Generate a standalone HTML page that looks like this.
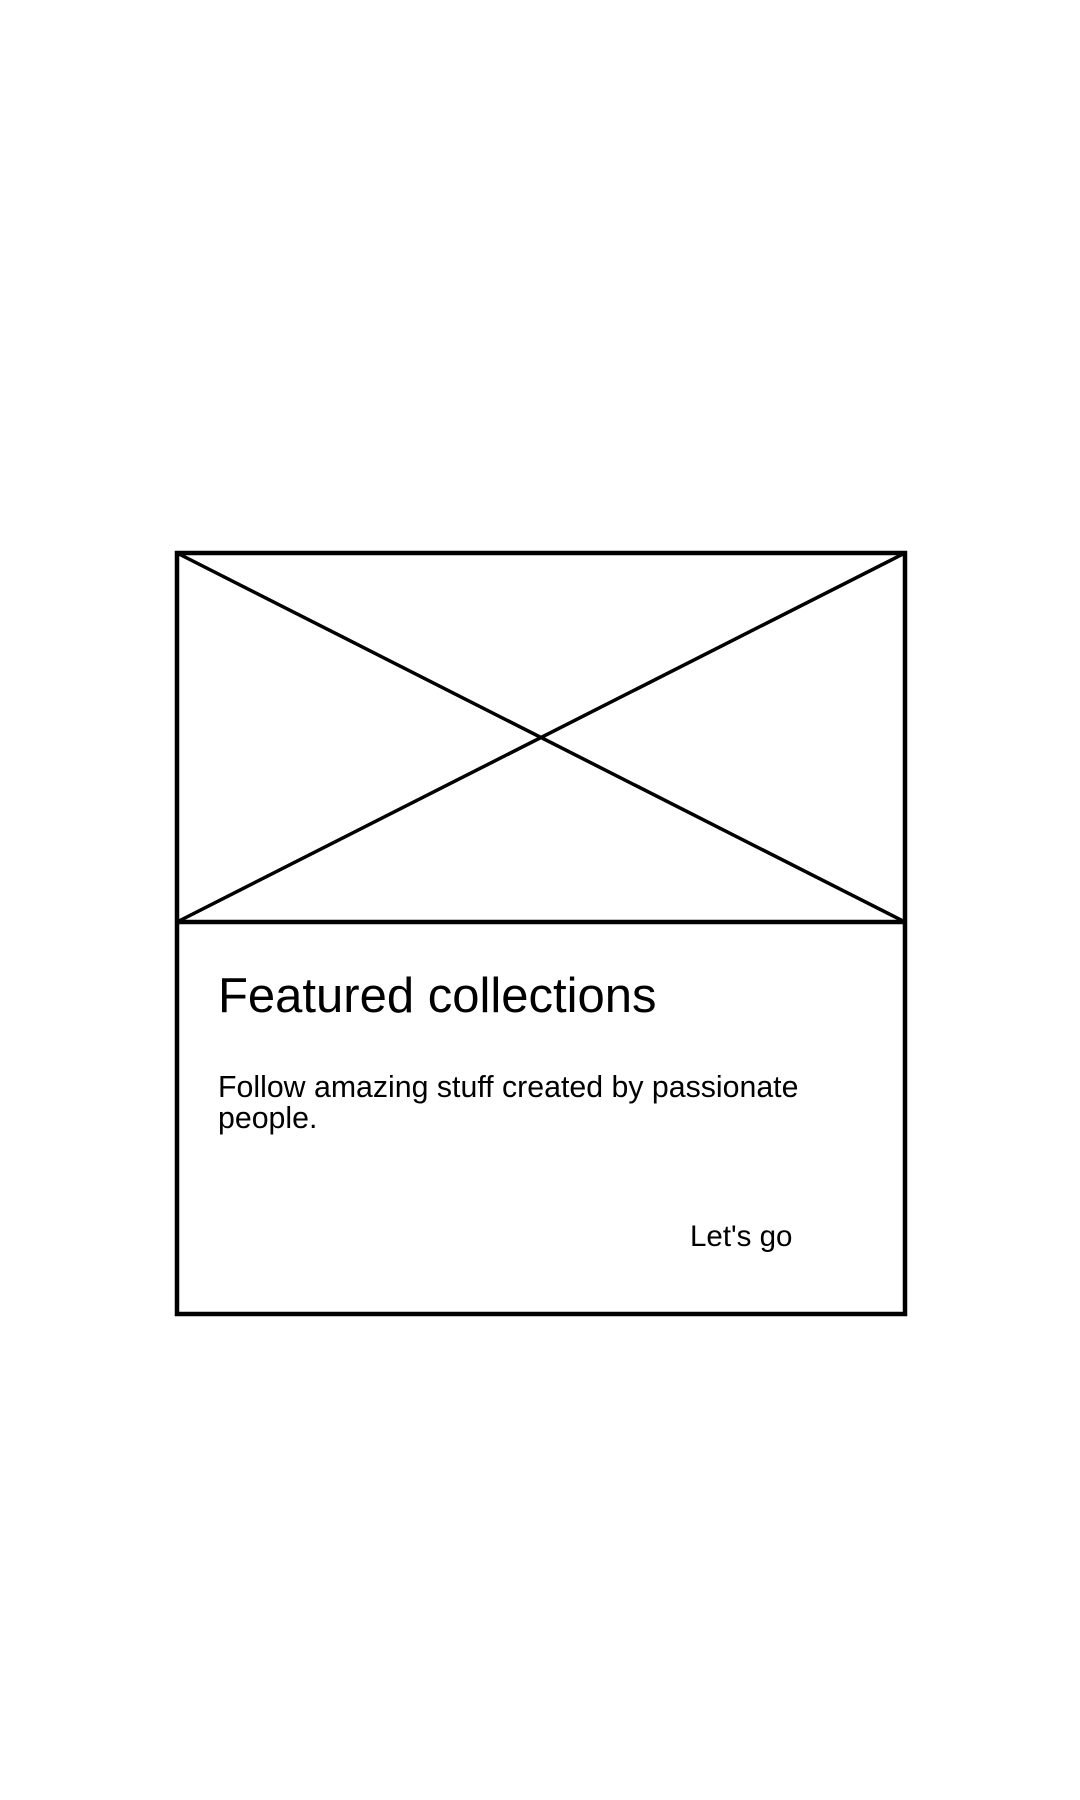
<!DOCTYPE html>
<html><head><meta charset="utf-8"><style>
body{margin:0;width:1080px;height:1800px;background:#fff;position:relative;font-family:"Liberation Sans",sans-serif;color:#000;overflow:hidden}
.t{position:absolute;white-space:nowrap;line-height:1}
</style></head><body>
<div style="position:absolute;left:175px;top:551px;width:732px;height:765px">
<svg width="1080" height="1800" style="position:absolute;left:-175px;top:-551px">
<rect x="177" y="553" width="728" height="761" fill="none" stroke="#000" stroke-width="4.5"/>
<line x1="177" y1="922" x2="905" y2="922" stroke="#000" stroke-width="4.5"/>
<line x1="177" y1="553" x2="905" y2="922" stroke="#000" stroke-width="3.5"/>
<line x1="905" y1="553" x2="177" y2="922" stroke="#000" stroke-width="3.5"/>
</svg>
</div>
<div class="t" style="left:218px;top:972px;font-size:49px">Featured collections</div>
<div class="t" style="left:218px;top:1072px;font-size:30.3px;line-height:31px">Follow amazing stuff created by passionate<br>people.</div>
<div class="t" style="left:690px;top:1222px;font-size:29.5px">Let's go</div>
</body></html>
